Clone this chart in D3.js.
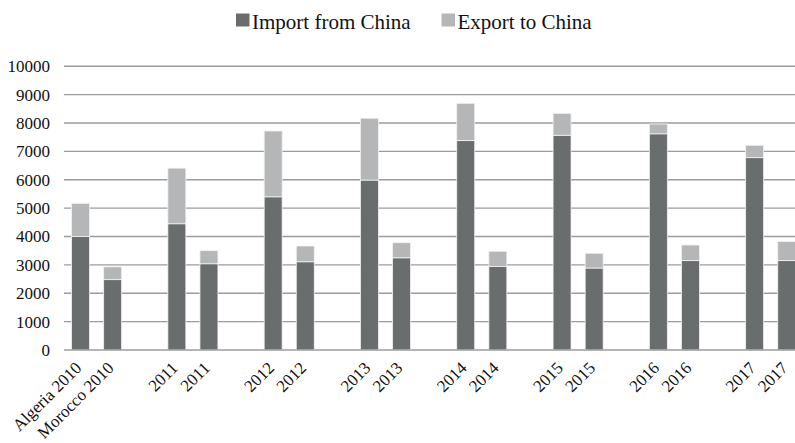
<!DOCTYPE html>
<html><head><meta charset="utf-8">
<script src="https://cdn.jsdelivr.net/npm/d3@7"></script>
<style>
html,body{margin:0;padding:0;background:#fff;}
text{font-family:"Liberation Serif","Times New Roman",serif;fill:#111;}
</style></head>
<body>
<svg id="chart" width="795" height="443"></svg>
<script>
const categories = ["Algeria 2010","Morocco 2010","","2011","2011","","2012","2012","","2013","2013","","2014","2014","","2015","2015","","2016","2016","","2017","2017"];
const importFromChina = [4000,2480,null,4450,3040,null,5400,3110,null,5990,3250,null,7380,2940,null,7570,2890,null,7620,3150,null,6780,3150];
const exportToChina  = [1170,450,null,1960,460,null,2320,555,null,2180,530,null,1315,540,null,770,520,null,345,550,null,435,670];
const yTicks = [0,1000,2000,3000,4000,5000,6000,7000,8000,9000,10000];
const seriesNames = ["Import from China","Export to China"];
const colors = ["#6a6d6d","#b5b6b7"];

const svg = d3.select("#chart");
const W = 795;
const x = d3.scaleBand().domain(d3.range(categories.length)).range([64.5, 802.8]).paddingInner(0.44).paddingOuter(0.22);
const y = d3.scaleLinear().domain([0,10000]).range([350, 66.3]);

// gridlines
svg.append("g").selectAll("line").data(yTicks.filter(d=>d>0)).join("line")
  .attr("x1",64).attr("x2",W).attr("y1",d=>y(d)).attr("y2",d=>y(d))
  .attr("stroke","#9c9c9c").attr("stroke-width",1.4);

// y labels
svg.append("g").selectAll("text").data(yTicks).join("text")
  .attr("x",50).attr("y",d=>y(d)).attr("dy","0.35em").attr("text-anchor","end")
  .style("font-size","17px").text(d=>d);

// stacked bars
const rows = categories.map((c,i)=>({i, imp: importFromChina[i], exp: exportToChina[i]})).filter(r=>r.imp!=null);
const stack = d3.stack().keys(["imp","exp"])(rows);
svg.append("g").selectAll("g").data(stack).join("g")
  .attr("fill",(d,k)=>colors[k])
  .selectAll("rect").data(d=>d).join("rect")
  .attr("x",d=>x(d.data.i)).attr("width",x.bandwidth())
  .attr("y",d=>y(d[1])).attr("height",d=>y(d[0])-y(d[1]))
  .attr("stroke","#f2f2f2").attr("stroke-width",0.8);

// baseline
svg.append("line").attr("x1",64).attr("x2",W).attr("y1",y(0)).attr("y2",y(0))
  .attr("stroke","#9c9c9c").attr("stroke-width",1.4);

// x labels
svg.append("g").selectAll("text").data(categories.map((c,i)=>({c,i})).filter(d=>d.c!=="")).join("text")
  .attr("transform",d=>`translate(${x(d.i)+x.bandwidth()/2+2},${369}) rotate(-45)`)
  .attr("text-anchor","end").style("font-size","17px").text(d=>d.c);

// legend
const legendX = [236, 441.5];
const lg = svg.append("g").selectAll("g").data(seriesNames).join("g")
  .attr("transform",(d,i)=>`translate(${legendX[i]},0)`);
lg.append("rect").attr("x",0).attr("y",13.5).attr("width",13.5).attr("height",13).attr("fill",(d,i)=>colors[i]);
lg.append("text").attr("x",16).attr("y",28.5).style("font-size","21px").text(d=>d);
</script>
</body></html>
